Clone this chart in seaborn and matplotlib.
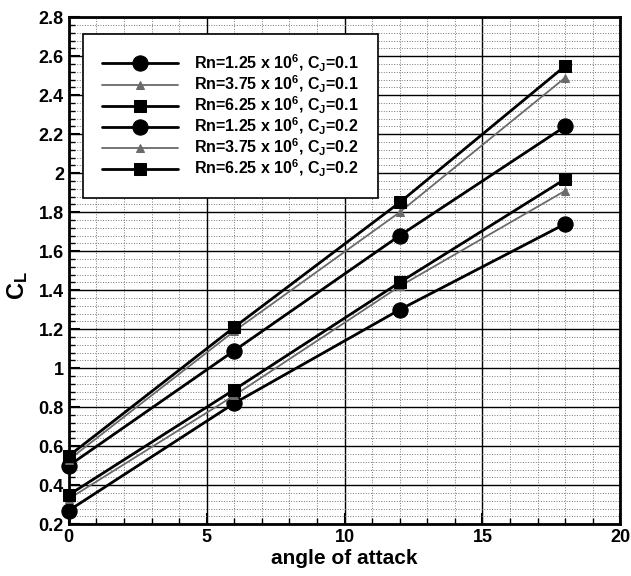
import matplotlib
matplotlib.use("Agg")
import matplotlib.pyplot as plt
from matplotlib.ticker import MultipleLocator, FuncFormatter
import numpy as np
import pandas as pd
import seaborn as sns

# Angle of attack (deg)
alpha = [0, 6, 12, 18]

# Lift coefficient for each Reynolds number / jet momentum coefficient
cl_rn125_cj01 = [0.27, 0.82, 1.30, 1.74]
cl_rn375_cj01 = [0.33, 0.86, 1.42, 1.91]
cl_rn625_cj01 = [0.35, 0.89, 1.44, 1.97]
cl_rn125_cj02 = [0.50, 1.09, 1.68, 2.24]
cl_rn375_cj02 = [0.53, 1.19, 1.80, 2.49]
cl_rn625_cj02 = [0.55, 1.21, 1.85, 2.55]

labels = [
    r"Rn=1.25 x 10$^{\mathbf{6}}$, C$_{\mathbf{J}}$=0.1",
    r"Rn=3.75 x 10$^{\mathbf{6}}$, C$_{\mathbf{J}}$=0.1",
    r"Rn=6.25 x 10$^{\mathbf{6}}$, C$_{\mathbf{J}}$=0.1",
    r"Rn=1.25 x 10$^{\mathbf{6}}$, C$_{\mathbf{J}}$=0.2",
    r"Rn=3.75 x 10$^{\mathbf{6}}$, C$_{\mathbf{J}}$=0.2",
    r"Rn=6.25 x 10$^{\mathbf{6}}$, C$_{\mathbf{J}}$=0.2",
]
series = [cl_rn125_cj01, cl_rn375_cj01, cl_rn625_cj01,
          cl_rn125_cj02, cl_rn375_cj02, cl_rn625_cj02]

# line style per Reynolds number
styles = [
    dict(marker="o", markersize=11, color="black", linewidth=2.0),
    dict(marker="^", markersize=6, color="#6a6a6a", linewidth=1.3),
    dict(marker="s", markersize=8.5, color="black", linewidth=2.0),
] * 2

rows = []
for lab, vals in zip(labels, series):
    for a, v in zip(alpha, vals):
        rows.append({"alpha": a, "CL": v, "case": lab})
df = pd.DataFrame(rows)

sns.set_theme(style="white")
plt.rcParams["font.family"] = ["Liberation Sans", "DejaVu Sans"]
plt.rcParams["mathtext.fontset"] = "custom"
plt.rcParams["mathtext.rm"] = "Liberation Sans:bold"
plt.rcParams["mathtext.bf"] = "Liberation Sans:bold"
plt.rcParams["mathtext.it"] = "Liberation Sans:bold"
plt.rcParams["text.color"] = "black"
plt.rcParams["axes.labelcolor"] = "black"
plt.rcParams["xtick.color"] = "black"
plt.rcParams["ytick.color"] = "black"

fig, ax = plt.subplots(figsize=(6.31, 5.76), dpi=100)
fig.subplots_adjust(left=0.109, right=0.983, top=0.970, bottom=0.090)

for lab, st in zip(labels, styles):
    sub = df[df["case"] == lab]
    sns.lineplot(data=sub, x="alpha", y="CL", ax=ax, label=lab,
                 marker=st["marker"], markersize=st["markersize"],
                 color=st["color"], linewidth=st["linewidth"],
                 markeredgecolor=st["color"], markerfacecolor=st["color"],
                 zorder=5, clip_on=False)

ax.set_xlim(0, 20)
ax.set_ylim(0.2, 2.8)
ax.xaxis.set_major_locator(MultipleLocator(5))
ax.xaxis.set_minor_locator(MultipleLocator(1))
ax.yaxis.set_major_locator(MultipleLocator(0.2))
ax.yaxis.set_minor_locator(MultipleLocator(0.04))
ax.yaxis.set_major_formatter(FuncFormatter(lambda v, p: f"{v:g}"))

ax.grid(which="major", color="black", linewidth=1.0, linestyle="-")
ax.grid(which="minor", color="#777777", linewidth=0.7, linestyle=":")
ax.set_axisbelow(True)

ax.tick_params(which="major", direction="in", length=8, width=1.5,
               labelsize=13, left=True, bottom=True, colors="black")
ax.tick_params(which="minor", direction="in", length=4, width=1.0,
               left=True, bottom=True)
for t in ax.get_xticklabels() + ax.get_yticklabels():
    t.set_fontweight("bold")

for sp in ax.spines.values():
    sp.set_color("black")
    sp.set_linewidth(2.0)

ax.set_xlabel("angle of attack", fontsize=15, fontweight="bold", labelpad=2)
ax.set_ylabel(r"C$_{\mathbf{L}}$", fontsize=17, fontweight="bold")
ax.yaxis.set_label_coords(-0.07, 0.47)

leg = ax.legend(loc="upper left", bbox_to_anchor=(0.025, 0.968),
                fontsize=11.5, frameon=True, fancybox=False, framealpha=1,
                edgecolor="black", handlelength=4.8, handletextpad=1.0,
                labelspacing=0.0, borderpad=1.2, borderaxespad=0)
leg.get_frame().set_linewidth(1.2)
for t in leg.get_texts():
    t.set_fontweight("bold")
    t.set_color("black")

fig.savefig("out.png", dpi=100)
